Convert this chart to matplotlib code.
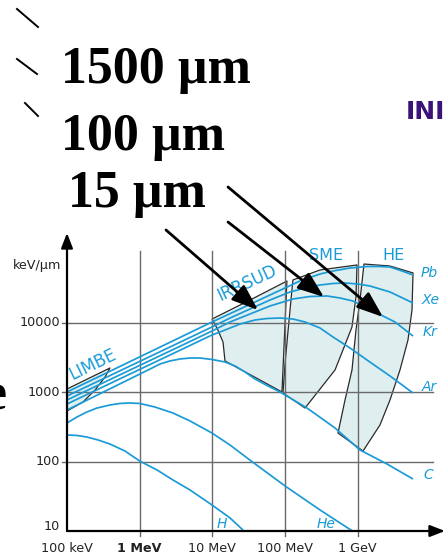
import matplotlib
matplotlib.use("Agg")
import matplotlib.pyplot as plt
from matplotlib.patches import Polygon, FancyArrowPatch
from matplotlib.lines import Line2D

# ---------------------------------------------------------------------------
# Stopping power in silicon versus energy (MeV per nucleon), keV/um
# ---------------------------------------------------------------------------
h_energy = [0.1, 0.137, 0.188, 0.267, 0.39, 0.628, 1.0, 1.73, 2.87, 4.92, 9.87, 17.5, 26.4]
h_dedx = [242, 238, 226, 205, 179, 142, 102, 75.7, 54.3, 39.0, 23.7, 15.4, 10.3]

he_energy = [0.1, 0.137, 0.188, 0.259, 0.39, 0.535, 0.735, 1.0, 1.62, 2.87, 4.92,
             9.87, 17.5, 32.9, 100, 302, 975]
he_dedx = [360, 439, 519, 592, 654, 688, 699, 688, 612, 501, 385,
           258, 173, 105, 44.5, 20.1, 9.06]

c_energy = [0.1, 1.39, 1.90, 2.61, 3.58, 4.92, 6.75, 9.87, 14.9, 20.5, 28.1, 38.5,
            58.2, 85.1, 200, 486, 1072, 2522, 5747]
c_dedx = [554, 2160, 2550, 2820, 3010, 3110, 3110, 2960, 2725, 2385, 1955, 1549,
          1228, 1007, 592, 305, 147, 92.3, 56.1]

ar_energy = [0.1, 9.87, 14.9, 24.0, 38.5, 56.4, 85.1, 128, 188, 302, 456, 781,
             1339, 2773, 5747]
ar_dedx = [676, 6670, 7870, 9610, 10970, 11530, 11720, 11340, 10270, 8420, 6240,
           4335, 2910, 1712, 973]

kr_energy = [0.1, 9.87, 17.5, 32.9, 62.0, 128, 220, 377, 569, 859, 1618, 3249, 5747]
kr_dedx = [772, 7610, 10270, 13390, 17470, 22030, 23930, 24350, 22770, 20610,
           14780, 10270, 6450]

xe_energy = [0.1, 9.87, 17.5, 32.9, 62.0, 117, 188, 302, 456, 667, 1006, 1472,
             2773, 5747]
xe_dedx = [881, 8700, 11720, 15800, 21310, 27800, 31720, 35050, 36840, 37450,
           36200, 33900, 27800, 19290]

pb_energy = [0.1, 9.87, 24.0, 62.0, 160, 302, 456, 781, 1339, 2018, 2773, 4055, 5747]
pb_dedx = [1007, 10270, 15800, 25160, 40020, 50490, 55780, 61600, 64750, 64750,
           63650, 55780, 48900]

species_names = ["H", "He", "C", "Ar", "Kr", "Xe", "Pb"]

# Beam line domains (outline in energy / dE/dx)
limbe_energy = [0.1, 0.39, 0.334, 0.243, 0.166, 0.1]
limbe_dedx = [1112, 2234, 1656, 1076, 722, 536]

irrsud_energy = [9.9, 33, 106, 90.6, 14.9, 14.0, 11.9]
irrsud_dedx = [11340, 21310, 40000, 1007, 2820, 5280, 7870]

sme_energy = [128, 302, 975, 944, 832, 625, 486, 188, 93.5, 100, 110]
sme_dedx = [41400, 57700, 68100, 23550, 8700, 4055, 2090, 592, 973, 2635, 7870]

he_zone_energy = [1217, 2773, 5747, 5566, 4900, 3804, 2773, 2018, 1180, 534, 667,
                  832, 944, 1072]
he_zone_dedx = [70300, 65800, 52300, 15280, 5650, 2090, 772, 337, 142, 258, 772,
                2090, 7870, 21310]

domain_names = ["LIMBE", "IRRSUD", "SME", "HE"]

# Axes ticks
x_grid = [1, 10, 100, 1000]
y_grid = [100, 1000, 10000]
x_tick_values = [0.1, 1, 10, 100, 1000]
x_tick_labels = ["100 keV", "1 MeV", "10 MeV", "100 MeV", "1 GeV"]
y_tick_values = [10, 100, 1000, 10000]
y_tick_labels = ["10", "100", "1000", "10000"]

thickness_labels = ["1500 µm", "100 µm", "15 µm"]

# ---------------------------------------------------------------------------
W, H = 446, 558
DPI = 100
BLUE = "#1a9bd7"
FILL = "#dfeff0"
GRID = "#6a6a6a"


def fx(x):
    return x / W


def fy(y):
    return 1 - y / H


fig = plt.figure(figsize=(W / DPI, H / DPI), dpi=DPI)
fig.patch.set_facecolor("white")

# plot area, in pixels
AX_L, AX_R, AX_B, AX_T = 67, 446, 531, 230
XDEC, YDEC = 72.7, 69.4  # pixels per decade


def ex(px):
    return 0.1 * 10 ** ((px - AX_L) / XDEC)


def sy(py):
    return 10 * 10 ** ((AX_B - py) / YDEC)


ax = fig.add_axes([fx(AX_L), fy(AX_B), (AX_R - AX_L) / W, (AX_B - AX_T) / H])
ax.set_xscale("log")
ax.set_yscale("log")
ax.set_xlim(ex(AX_L), ex(AX_R))
ax.set_ylim(sy(AX_B), sy(AX_T))
ax.axis("off")

# domains
for en, de in [(limbe_energy, limbe_dedx), (irrsud_energy, irrsud_dedx),
               (sme_energy, sme_dedx), (he_zone_energy, he_zone_dedx)]:
    poly = Polygon(list(zip(en, de)), closed=True, facecolor=FILL,
                   edgecolor="#2a2a2a", lw=0.9, zorder=1, clip_on=False,
                   joinstyle="round")
    ax.add_patch(poly)

# grid (with small overhang acting as tick marks)
for xv in x_grid:
    ax.plot([xv, xv], [sy(536), sy(251)], color=GRID, lw=1.0, zorder=2,
            clip_on=False)
for yv in y_grid:
    ax.plot([ex(62), ex(433)], [yv, yv], color=GRID, lw=1.0, zorder=2,
            clip_on=False)

# stopping power curves
for en, de in [(h_energy, h_dedx), (he_energy, he_dedx), (c_energy, c_dedx),
               (ar_energy, ar_dedx), (kr_energy, kr_dedx),
               (xe_energy, xe_dedx), (pb_energy, pb_dedx)]:
    ax.plot(en, de, color=BLUE, lw=1.25, zorder=3, clip_on=True,
            solid_capstyle="butt", solid_joinstyle="round")

# axes with arrow heads
arrow_kw = dict(arrowstyle="-|>,head_length=0.9,head_width=0.35",
                mutation_scale=10, lw=1.6, color="black",
                shrinkA=0, shrinkB=0)
ax.annotate("", xy=(ex(AX_L), sy(233)), xytext=(ex(AX_L), sy(AX_B)),
            arrowprops=arrow_kw, annotation_clip=False, zorder=5)
ax.annotate("", xy=(ex(445), sy(AX_B)), xytext=(ex(AX_L), sy(AX_B)),
            arrowprops=arrow_kw, annotation_clip=False, zorder=5)

# tick labels
tick_font = dict(family="DejaVu Sans", fontsize=9.2, color="#222222")
for xv, lab in zip(x_tick_values, x_tick_labels):
    ax.annotate(lab, xy=(xv, sy(AX_B)), xytext=(0, -18),
                textcoords="offset pixels", ha="center", va="center",
                fontweight="bold" if lab == "1 MeV" else "normal",
                annotation_clip=False, **tick_font)
for yv, lab in zip(y_tick_values, y_tick_labels):
    dy = 5 if yv == 10 else 0
    ax.annotate(lab, xy=(ex(AX_L), yv), xytext=(-7, dy),
                textcoords="offset pixels", ha="right", va="center",
                annotation_clip=False, **tick_font)
fig.text(fx(37), fy(265), "keV/µm", ha="center", va="center", **tick_font)

# domain names
dom_font = dict(family="DejaVu Sans", color=BLUE, ha="center", va="center",
                rotation_mode="anchor")
dom_pos = {"LIMBE": (93, 364, 26, 12.0), "IRRSUD": (247, 283, 25, 12.0),
           "SME": (326, 256, 0, 11.5), "HE": (394, 256, 0, 11.5)}
for name in domain_names:
    x, y, rot, fs = dom_pos[name]
    fig.text(fx(x), fy(y), name, rotation=rot, fontsize=fs, **dom_font)

# species names
sp_pos = {"Pb": (421, 273.5), "Xe": (422, 300), "Kr": (423, 332),
          "Ar": (422, 387), "C": (423, 475), "H": (217, 524.5),
          "He": (317, 524.5)}
for name in species_names:
    x, y = sp_pos[name]
    fig.text(fx(x), fy(y), name, color=BLUE, fontsize=10, style="italic",
             family="DejaVu Sans", ha="left", va="center")

# detector thicknesses
big = dict(family="Liberation Serif", fontweight="bold", fontsize=37.4,
           color="black", ha="left", va="baseline")
for lab, (x, y) in zip(thickness_labels, [(61, 83), (61, 150), (68, 207)]):
    fig.text(fx(x), fy(y), lab, **big)
fig.text(fx(-17), fy(410), "e", **big)

fig.text(fx(406), fy(119), "INI", family="DejaVu Sans", fontweight="bold",
         fontsize=18, color="#3b1277", ha="left", va="baseline")

# short strokes on the left margin
for (x0, y0, x1, y1) in [(17, 9, 38, 27), (17, 59, 37, 74), (25, 103, 38, 116)]:
    fig.add_artist(Line2D([fx(x0), fx(x1)], [fy(y0), fy(y1)],
                          transform=fig.transFigure, color="black", lw=1.4))

# pointers from thicknesses to the domains
ptr_kw = dict(arrowstyle="-|>,head_length=1.6,head_width=0.6",
              mutation_scale=10, lw=2.0, color="black", shrinkA=0, shrinkB=0)
for (x0, y0, x1, y1) in [(166, 230, 258, 310), (228, 222, 324, 297),
                         (228, 187, 383, 317)]:
    fig.add_artist(FancyArrowPatch(
        (fx(x0), fy(y0)), (fx(x1), fy(y1)), transform=fig.transFigure,
        zorder=6, **ptr_kw))

fig.savefig("out.png", dpi=DPI)
